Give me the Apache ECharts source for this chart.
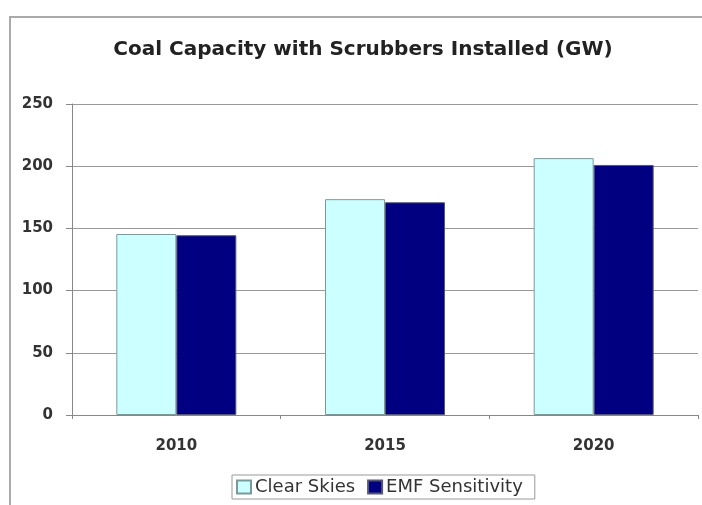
<!DOCTYPE html>
<html>
<head>
<meta charset="utf-8">
<script src="https://cdn.jsdelivr.net/npm/echarts@6/dist/echarts.min.js"></script>
<style>
  html, body { margin: 0; padding: 0; background: #fff; }
  #chart { width: 702px; height: 505px; }
</style>
</head>
<body>
<div id="chart"></div>
<script>
// values
const years = ['2010', '2015', '2020']
const clearSkies = [145.5, 173.5, 206.5]
const emfSensitivity = [144.5, 171, 201]
const seriesNames = ['Clear Skies', 'EMF Sensitivity']

const font = 'DejaVu Sans, Verdana, sans-serif'
const chart = echarts.init(document.getElementById('chart'))

let options = {
  animation: false,
  title: {
    text: 'Coal Capacity with Scrubbers Installed (GW)',
    left: 358,
    textAlign: 'center',
    top: 35,
    textStyle: { fontFamily: font, fontSize: 20, fontWeight: 'bold', color: '#222' }
  },
  graphic: [
    {
      type: 'polyline',
      shape: { points: [[10, 505], [10, 17], [702, 17]] },
      style: { stroke: '#aaa', lineWidth: 2, fill: null }
    }
  ],
  legend: {
    data: seriesNames,
    left: 232,
    top: 475,
    icon: 'rect',
    itemWidth: 14,
    itemHeight: 13,
    itemGap: 12,
    padding: [3, 12, 3, 4],
    borderColor: '#999',
    borderWidth: 1,
    borderRadius: 0,
    textStyle: { fontFamily: font, fontSize: 18, color: '#333', padding: [0, 0, 0, -1] }
  },
  grid: {
    left: 72,
    right: 4,
    top: 104,
    bottom: 90,
    containLabel: false
  },
  xAxis: {
    type: 'category',
    data: years,
    axisLine: { lineStyle: { color: '#888', width: 1 } },
    axisTick: { show: true, length: 4, lineStyle: { color: '#888' } },
    axisLabel: { fontFamily: font, fontSize: 15, fontWeight: 'bold', color: '#333', margin: 24 }
  },
  yAxis: {
    type: 'value',
    min: 0,
    max: 250,
    interval: 50,
    axisLine: { show: true, lineStyle: { color: '#888', width: 1 } },
    axisTick: { show: true, length: 6, lineStyle: { color: '#888' } },
    axisLabel: { fontFamily: font, fontSize: 15, fontWeight: 'bold', color: '#333', margin: 19 },
    splitLine: { lineStyle: { color: '#999', width: 1 } }
  },
  series: [
    {
      name: seriesNames[0],
      type: 'bar',
      data: clearSkies,
      barGap: '0%',
      barCategoryGap: '42.5%',
      itemStyle: { color: '#ccffff', borderColor: '#7a9a9a', borderWidth: 1 }
    },
    {
      name: seriesNames[1],
      type: 'bar',
      data: emfSensitivity,
      itemStyle: { color: '#000080', borderColor: '#555577', borderWidth: 1 }
    }
  ]
}
chart.setOption(options)
</script>
</body>
</html>
